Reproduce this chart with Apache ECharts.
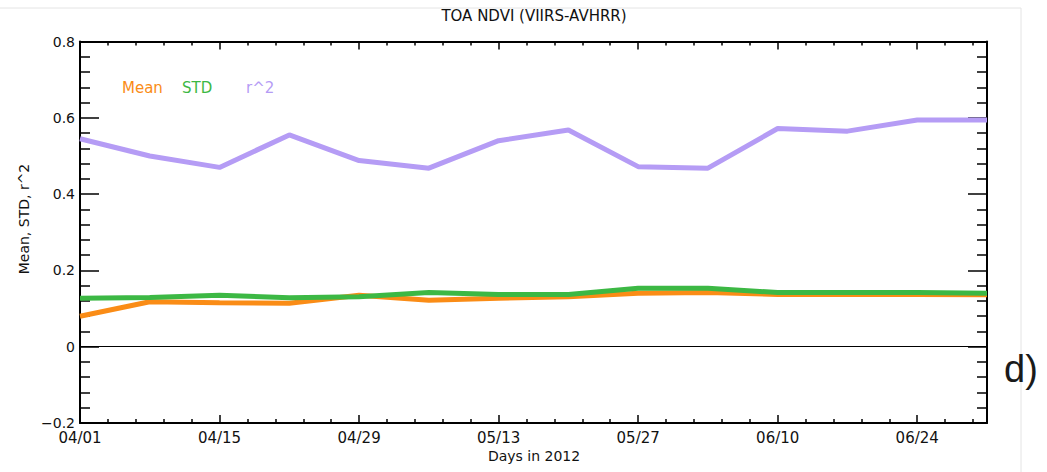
<!DOCTYPE html>
<html>
<head>
<meta charset="utf-8">
<title>TOA NDVI (VIIRS-AVHRR)</title>
<script src="https://cdn.jsdelivr.net/npm/echarts@6/dist/echarts.min.js"></script>
<style>
  html, body { margin: 0; padding: 0; background: #ffffff; }
  #chart { width: 1047px; height: 472px; }
</style>
</head>
<body>
<div id="chart"></div>
<script>
// Weekly samples, April 1 to July 1, 2012 (day offset from 04/01)
const sampleDates = ['04/01', '04/08', '04/15', '04/22', '04/29', '05/06', '05/13',
                     '05/20', '05/27', '06/03', '06/10', '06/17', '06/24', '07/01'];
const dayOffsets = [0, 7, 14, 21, 28, 35, 42, 49, 56, 63, 70, 77, 84, 91];

const meanValues = [0.080, 0.118, 0.115, 0.114, 0.135, 0.122, 0.127,
                    0.131, 0.140, 0.142, 0.137, 0.137, 0.137, 0.136];
const stdValues  = [0.127, 0.129, 0.135, 0.128, 0.131, 0.142, 0.137,
                    0.137, 0.153, 0.153, 0.142, 0.142, 0.142, 0.140];
const r2Values   = [0.545, 0.500, 0.470, 0.555, 0.488, 0.468, 0.540,
                    0.568, 0.472, 0.468, 0.572, 0.565, 0.594, 0.594];

// Axis tick labels
const xTickLabels = ['04/01', '04/15', '04/29', '05/13', '05/27', '06/10', '06/24'];
const yTickLabels = ['\u22120.2', '0', '0.2', '0.4', '0.6', '0.8'];

const COLORS = { mean: '#fa8c16', std: '#3cb844', r2: '#b59cf5' };
const FONT = 'DejaVu Sans';

function pairs(values) {
  return values.map((v, i) => [dayOffsets[i], v]);
}

const chart = echarts.init(document.getElementById('chart'), null, { renderer: 'svg' });

const frameAxis = {
  axisLine: { show: true, onZero: false, lineStyle: { color: '#000', width: 2 } },
  splitLine: { show: false }
};

const xBase = Object.assign({}, frameAxis, {
  type: 'value', min: 0, max: 91, interval: 14,
  axisTick: { show: true, inside: true, length: 8, lineStyle: { color: '#000', width: 1.5 } },
  minorTick: { show: true, splitNumber: 5, length: 4, lineStyle: { color: '#000', width: 1.5 } }
});

const yBase = Object.assign({}, frameAxis, {
  type: 'value', min: -0.2, max: 0.8, interval: 0.2,
  axisTick: { show: true, inside: true, length: 19, lineStyle: { color: '#000', width: 1.5 } },
  minorTick: { show: true, splitNumber: 5, length: 10, lineStyle: { color: '#000', width: 1.5 } }
});

const option = {
  backgroundColor: '#ffffff',
  animation: false,
  grid: { left: 80, top: 41.5, width: 907, height: 381.5, containLabel: false },
  xAxis: [
    Object.assign({}, xBase, {
      position: 'bottom',
      axisLabel: {
        show: true, margin: 7, color: '#111', fontFamily: FONT, fontSize: 15, lineHeight: 15,
        showMaxLabel: false,
        formatter: v => (v % 14 === 0 && xTickLabels[v / 14]) ? xTickLabels[v / 14] : ''
      }
    }),
    Object.assign({}, xBase, { position: 'top', axisLabel: { show: false } })
  ],
  yAxis: [
    Object.assign({}, yBase, {
      position: 'left',
      axisLabel: {
        show: true, margin: 5, color: '#111', fontFamily: FONT, fontSize: 14,
        formatter: v => yTickLabels[Math.round((v + 0.2) / 0.2)]
      }
    }),
    Object.assign({}, yBase, { position: 'right', axisLabel: { show: false } })
  ],
  series: [
    {
      name: 'Mean', type: 'line', xAxisIndex: 0, yAxisIndex: 0,
      data: pairs(meanValues), showSymbol: false,
      lineStyle: { color: COLORS.mean, width: 5 }, itemStyle: { color: COLORS.mean },
      markLine: {
        silent: true, symbol: 'none', label: { show: false },
        lineStyle: { color: '#000', width: 1.2, type: 'solid' },
        data: [{ yAxis: 0 }]
      }
    },
    {
      name: 'STD', type: 'line', xAxisIndex: 0, yAxisIndex: 0,
      data: pairs(stdValues), showSymbol: false,
      lineStyle: { color: COLORS.std, width: 5 }, itemStyle: { color: COLORS.std }
    },
    {
      name: 'r^2', type: 'line', xAxisIndex: 0, yAxisIndex: 0,
      data: pairs(r2Values), showSymbol: false,
      lineStyle: { color: COLORS.r2, width: 5 }, itemStyle: { color: COLORS.r2 }
    }
  ],
  graphic: [
    // page frame
    { type: 'line', shape: { x1: 0, y1: 8, x2: 1021, y2: 8 }, style: { stroke: '#e4e4e4', lineWidth: 1 } },
    { type: 'line', shape: { x1: 1021, y1: 8, x2: 1021, y2: 472 }, style: { stroke: '#e4e4e4', lineWidth: 1 } },
    // title
    { type: 'text', x: 534, y: 16,
      style: { text: 'TOA NDVI (VIIRS-AVHRR)', fill: '#111', fontFamily: FONT, fontSize: 15,
               align: 'center', verticalAlign: 'middle' } },
    // axis names
    { type: 'text', x: 534, y: 456,
      style: { text: 'Days in 2012', fill: '#111', fontFamily: FONT, fontSize: 14, lineHeight: 14,
               align: 'center', verticalAlign: 'middle' } },
    { type: 'text', x: 24, y: 219, rotation: Math.PI / 2,
      style: { text: 'Mean, STD, r^2', fill: '#111', fontFamily: FONT, fontSize: 14,
               align: 'center', verticalAlign: 'middle' } },
    // series key
    { type: 'text', x: 122, y: 88,
      style: { text: 'Mean', fill: COLORS.mean, fontFamily: FONT, fontSize: 15, align: 'left', verticalAlign: 'middle' } },
    { type: 'text', x: 182, y: 88,
      style: { text: 'STD', fill: COLORS.std, fontFamily: FONT, fontSize: 15, align: 'left', verticalAlign: 'middle' } },
    { type: 'text', x: 246, y: 88,
      style: { text: 'r^2', fill: COLORS.r2, fontFamily: FONT, fontSize: 15, align: 'left', verticalAlign: 'middle' } },
    // panel letter
    { type: 'text', x: 1004, y: 369,
      style: { text: 'd)', fill: '#1a1a1a', fontFamily: 'Liberation Sans', fontSize: 38,
               align: 'left', verticalAlign: 'middle' } }
  ]
};

chart.setOption(option);
</script>
</body>
</html>
